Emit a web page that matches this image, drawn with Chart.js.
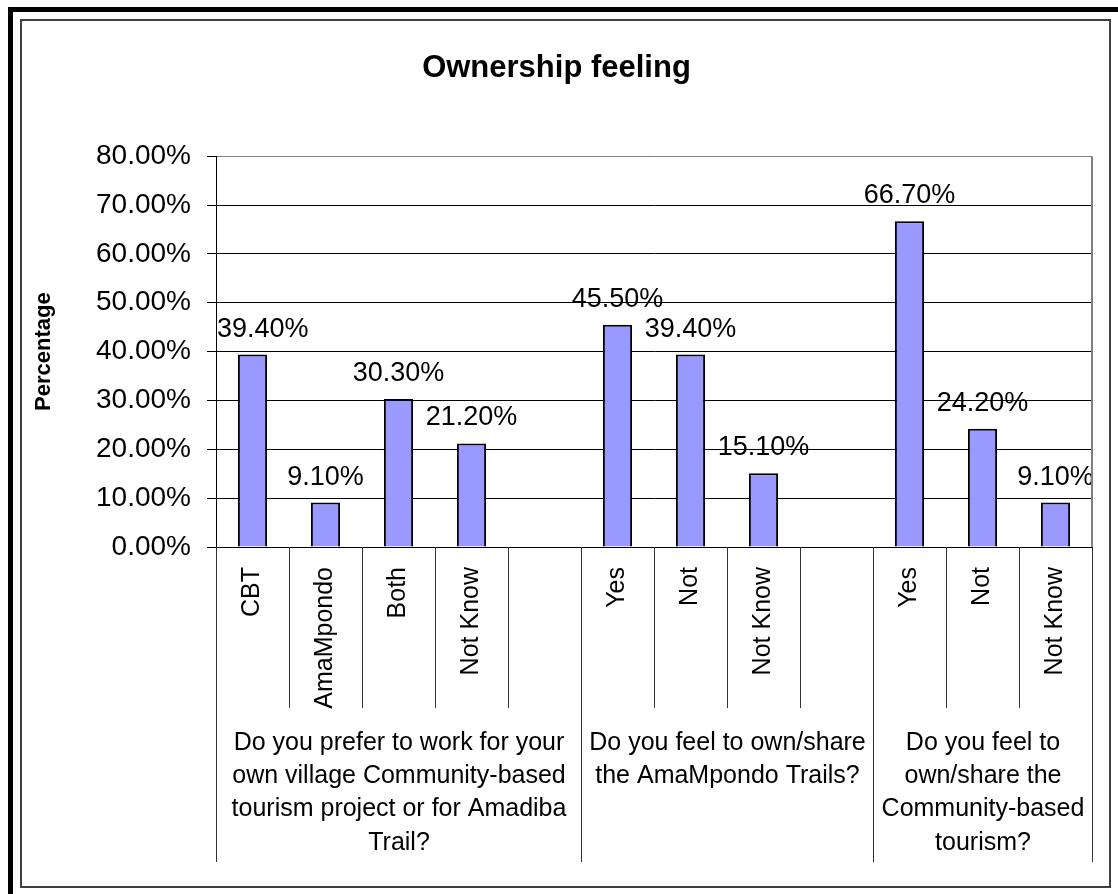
<!DOCTYPE html>
<html>
<head>
<meta charset="utf-8">
<title>Ownership feeling</title>
<script src="https://cdn.jsdelivr.net/npm/chart.js@4.4.1/dist/chart.umd.min.js"></script>
<style>
  html, body { margin: 0; padding: 0; background: #fff; }
  #chart { display: block; }
</style>
</head>
<body>
<canvas id="chart" width="1118" height="894"></canvas>
<script>
// one slot per answer option, '' slots keep a gap between the questions
const categories = ['CBT', 'AmaMpondo', 'Both', 'Not Know', '', 'Yes', 'Not', 'Not Know', '', 'Yes', 'Not', 'Not Know'];
const percentages = [39.4, 9.1, 30.3, 21.2, null, 45.5, 39.4, 15.1, null, 66.7, 24.2, 9.1];
const questions = [
    ['Do you prefer to work for your', 'own village Community-based', 'tourism project or for Amadiba', 'Trail?'],
    ['Do you feel to own/share', 'the AmaMpondo Trails?'],
    ['Do you feel to', 'own/share the', 'Community-based', 'tourism?']
];
// first and last slot under each question
const questionSpans = [[0, 4], [5, 8], [9, 11]];
const yTicks = [0, 10, 20, 30, 40, 50, 60, 70, 80];

const FONT = "'Liberation Sans', Arial, sans-serif";

// white page, heavy top/left edge and the thin chart border
const frame = {
    id: 'frame',
    beforeDraw(chart) {
        const c = chart.ctx;
        c.save();
        c.fillStyle = '#fff';
        c.fillRect(0, 0, chart.width, chart.height);
        c.restore();
    },
    afterDraw(chart) {
        const c = chart.ctx;
        const a = chart.chartArea;
        c.save();
        c.strokeStyle = '#808080';
        c.lineWidth = 2;
        c.beginPath();
        c.moveTo(a.right, a.top);
        c.lineTo(a.right, a.bottom);
        c.stroke();

        c.fillStyle = '#000';
        c.fillRect(8, 7, chart.width - 8, 5);
        c.fillRect(8, 7, 5, chart.height - 7);
        c.strokeStyle = '#404040';
        c.lineWidth = 2;
        c.strokeRect(21, 20, 1089, 867);
        c.restore();
    }
};

// option names (reading upwards) and the questions below them
const categoryAxis = {
    id: 'categoryAxis',
    afterDraw(chart) {
        const x = chart.scales.x;
        const c = chart.ctx;
        const bottom = chart.chartArea.bottom;
        const step = x.width / categories.length;
        const edge = i => Math.round(x.getPixelForValue(i) - step / 2) + 0.5;

        const groupEdges = new Set();
        questionSpans.forEach(([a, b]) => { groupEdges.add(a); groupEdges.add(b + 1); });

        c.save();
        c.strokeStyle = '#333';
        c.lineWidth = 1;
        for (let i = 0; i <= categories.length; i++) {
            const px = edge(i);
            c.beginPath();
            c.moveTo(px, bottom);
            c.lineTo(px, bottom + (groupEdges.has(i) ? 315 : 161));
            c.stroke();
        }

        c.fillStyle = '#000';
        c.font = '25px ' + FONT;
        c.textAlign = 'right';
        c.textBaseline = 'middle';
        categories.forEach((name, i) => {
            c.save();
            c.translate(x.getPixelForValue(i), bottom + 20);
            c.rotate(-Math.PI / 2);
            c.fillText(name, 0, 0);
            c.restore();
        });

        c.textAlign = 'center';
        questions.forEach((lines, q) => {
            const [a, b] = questionSpans[q];
            const cx = (edge(a) + edge(b + 1)) / 2;
            lines.forEach((line, k) => c.fillText(line, cx, bottom + 196 + k * 33.3));
        });
        c.restore();
    }
};

// percentage over each bar, kept inside the plot on the left
const valueLabels = {
    id: 'valueLabels',
    afterDatasetsDraw(chart) {
        const c = chart.ctx;
        const meta = chart.getDatasetMeta(0);
        const left = chart.chartArea.left;
        c.save();
        c.font = '27px ' + FONT;
        c.fillStyle = '#000';
        c.textAlign = 'left';
        c.textBaseline = 'alphabetic';
        meta.data.forEach((bar, i) => {
            const v = percentages[i];
            if (v == null) return;
            const text = v.toFixed(2) + '%';
            const w = c.measureText(text).width;
            c.fillText(text, Math.max(bar.x - w / 2, left + 1), bar.y - 18);
        });
        c.restore();
    }
};

new Chart(document.getElementById('chart'), {
    type: 'bar',
    data: {
        labels: categories,
        datasets: [{
            data: percentages,
            backgroundColor: '#9999FF',
            borderColor: '#000',
            borderWidth: 2,
            barPercentage: 0.4,
            categoryPercentage: 1
        }]
    },
    options: {
        responsive: false,
        animation: false,
        layout: { padding: { left: 21, right: 26, top: 20, bottom: 7 } },
        plugins: {
            legend: { display: false },
            tooltip: { enabled: false },
            title: {
                display: true,
                text: 'Ownership feeling',
                color: '#000',
                font: { family: FONT, size: 31, weight: 'bold' },
                padding: { top: 30, bottom: 69 }
            }
        },
        scales: {
            x: {
                ticks: { display: false },
                grid: { display: false },
                border: { color: '#000', width: 1 },
                afterFit(s) { s.height = 340; }
            },
            y: {
                min: 0,
                max: 80,
                afterBuildTicks(s) { s.ticks = yTicks.map(v => ({ value: v })); },
                ticks: {
                    color: '#000',
                    font: { family: FONT, size: 28 },
                    padding: 16,
                    callback: v => v.toFixed(2) + '%'
                },
                grid: {
                    color: ctx => (ctx.tick && ctx.tick.value === 80 ? '#808080' : '#000'),
                    tickColor: '#000',
                    tickLength: 9
                },
                border: { color: '#000', width: 1 },
                title: {
                    display: true,
                    text: 'Percentage',
                    color: '#000',
                    font: { family: FONT, size: 22, weight: 'bold' },
                    padding: { top: 10 }
                },
                afterFit(s) { s.width = 195; }
            }
        }
    },
    plugins: [frame, categoryAxis, valueLabels]
});
</script>
</body>
</html>
